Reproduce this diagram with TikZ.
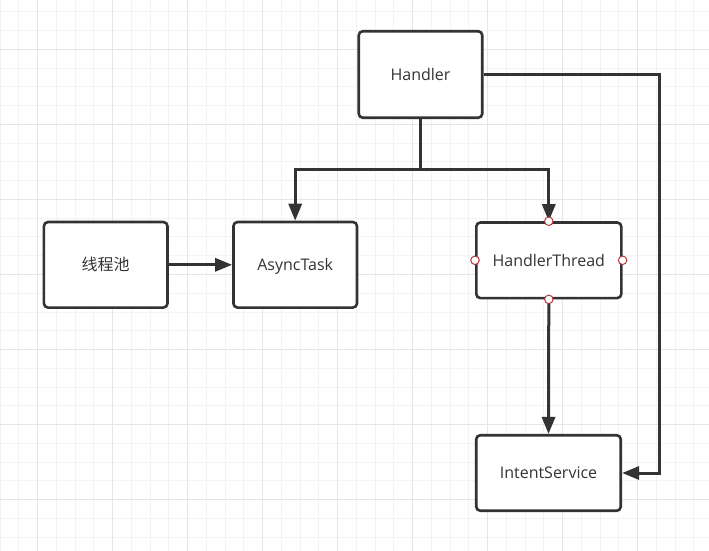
\documentclass[tikz,border=0pt]{standalone}
\usepackage{fontspec}
\setmainfont{Open Sans}
\newfontfamily\cjk{Noto Sans CJK SC}
\usetikzlibrary{arrows.meta}
\definecolor{ln}{HTML}{333333}
\definecolor{minorg}{HTML}{F3F3F3}
\definecolor{majorg}{HTML}{E6E6E6}
\definecolor{port}{HTML}{B03A3A}
\tikzset{
  box/.style={draw=ln, line width=2.6bp, fill=white, rounded corners=4bp,
    inner sep=0pt, text=ln, text height=12bp, text depth=0.2bp,
    font=\fontsize{16bp}{19bp}\selectfont},
  conn/.style={draw=ln, line width=3bp},
  arr/.style={conn, -{Triangle[length=17bp,width=13bp]}},
  portc/.style={circle, draw=port, line width=1bp, fill=white, minimum size=8.5bp, inner sep=0pt},
}
\begin{document}
\begin{tikzpicture}[x=1bp,y=-1bp]
\useasboundingbox (0,0) rectangle (709,551);
\fill[white] (0,0) rectangle (709,551);
% grid
\foreach \i in {0,...,38} {
  \draw[minorg, line width=1bp] ({\i*18.75},0) -- ({\i*18.75},551);
}
\foreach \i in {0,...,29} {
  \draw[minorg, line width=1bp] (0,{12+\i*18.75}) -- (709,{12+\i*18.75});
}
\foreach \i in {0,...,9} {
  \draw[majorg, line width=1bp] ({37.5+\i*75},0) -- ({37.5+\i*75},551);
}
\foreach \i in {0,...,6} {
  \draw[majorg, line width=1bp] (0,{49.5+\i*75}) -- (709,{49.5+\i*75});
}
% nodes
\node[box, minimum width=123.5bp, minimum height=86.5bp] (H) at (420.5,74.5) {Handler};
\node[box, minimum width=123.5bp, minimum height=85.5bp] (P) at (105.7,264.8) {\cjk\fontsize{16bp}{19bp}\selectfont 线程池};
\node[box, minimum width=123.5bp, minimum height=85.5bp] (A) at (295.2,264.8) {AsyncTask};
\node[box, minimum width=145bp, minimum height=75.5bp] (T) at (548.8,260.3) {HandlerThread};
\node[box, minimum width=144.5bp, minimum height=75.5bp] (S) at (548.5,473) {IntentService};
% connectors
\coordinate (j) at (420.5,170);
\coordinate (r) at (659,74.5);
\draw[conn] (H.south) -- (j);
\draw[arr] (j) -| (A.north);
\draw[arr] (j) -| (T.north);
\draw[arr] (H.east) -- (r) |- (S.east);
\draw[arr] (P.east) -- (A.west);
\draw[arr] (T.south) -- (S.north);
% ports
\node[portc] (t1) at (T.north) {};
\node[portc] (t2) at (T.south) {};
\node[portc] (t3) at (T.west) {};
\node[portc] (t4) at (T.east) {};
\end{tikzpicture}
\end{document}
